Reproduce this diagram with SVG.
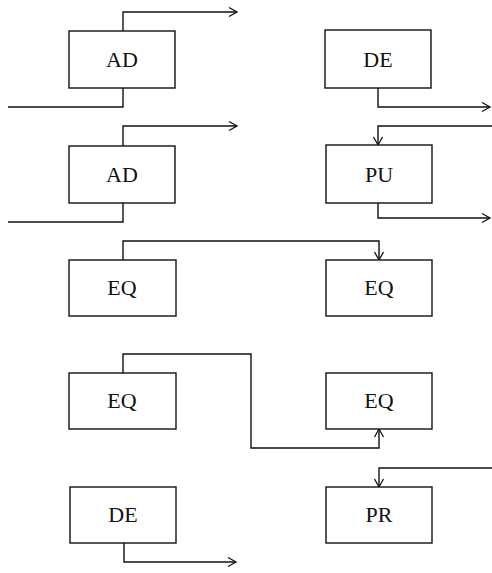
<svg xmlns="http://www.w3.org/2000/svg" width="492" height="573" viewBox="0 0 492 573">
<style>
.box{fill:#fff;stroke:#111;stroke-width:1.4}
.lbl{font-family:"Liberation Serif","Times New Roman",serif;font-size:22px;fill:#111;text-anchor:middle}
.ln{fill:none;stroke:#111;stroke-width:1.4}
.arr{marker-end:url(#ah)}
</style>
<defs>
<marker id="ah" markerUnits="userSpaceOnUse" markerWidth="12" markerHeight="12" viewBox="-10 -6 12 12" refX="0" refY="0" orient="auto">
<path d="M-8,-4.5 L0,0 L-8,4.5" fill="none" stroke="#111" stroke-width="1.3"/>
</marker>
</defs>
<g id="connectors">
<path class="ln arr" d="M123,31 V12 H237"/>
<path class="ln" d="M8,107 H123 V88"/>
<path class="ln arr" d="M123,146 V126 H237"/>
<path class="ln" d="M8,222 H123 V203"/>
<path class="ln arr" d="M378,88 V107 H490"/>
<path class="ln arr" d="M492,126 H378 V145"/>
<path class="ln arr" d="M378,203 V218 H490"/>
<path class="ln arr" d="M123,260 V241 H379 V260"/>
<path class="ln arr" d="M123,373 V354 H251 V448 H379 V429"/>
<path class="ln arr" d="M124,543 V562 H236"/>
<path class="ln arr" d="M492,468 H379 V487"/>
</g>
<g id="node-ad1"><rect class="box" x="69" y="31" width="106" height="57"/><text class="lbl" x="122" y="67">AD</text></g>
<g id="node-ad2"><rect class="box" x="69" y="146" width="106" height="57"/><text class="lbl" x="122" y="182">AD</text></g>
<g id="node-de1"><rect class="box" x="325" y="30" width="106" height="58"/><text class="lbl" x="378" y="67">DE</text></g>
<g id="node-pu"><rect class="box" x="326" y="145" width="106" height="58"/><text class="lbl" x="379" y="182">PU</text></g>
<g id="node-eq1"><rect class="box" x="69" y="260" width="107" height="56"/><text class="lbl" x="122" y="295">EQ</text></g>
<g id="node-eq2"><rect class="box" x="326" y="260" width="106" height="56"/><text class="lbl" x="379" y="295">EQ</text></g>
<g id="node-eq3"><rect class="box" x="69" y="373" width="107" height="56"/><text class="lbl" x="122" y="408">EQ</text></g>
<g id="node-eq4"><rect class="box" x="326" y="373" width="106" height="56"/><text class="lbl" x="379" y="408">EQ</text></g>
<g id="node-de2"><rect class="box" x="70" y="487" width="106" height="56"/><text class="lbl" x="123" y="522">DE</text></g>
<g id="node-pr"><rect class="box" x="326" y="487" width="106" height="56"/><text class="lbl" x="379" y="522">PR</text></g>
</svg>
